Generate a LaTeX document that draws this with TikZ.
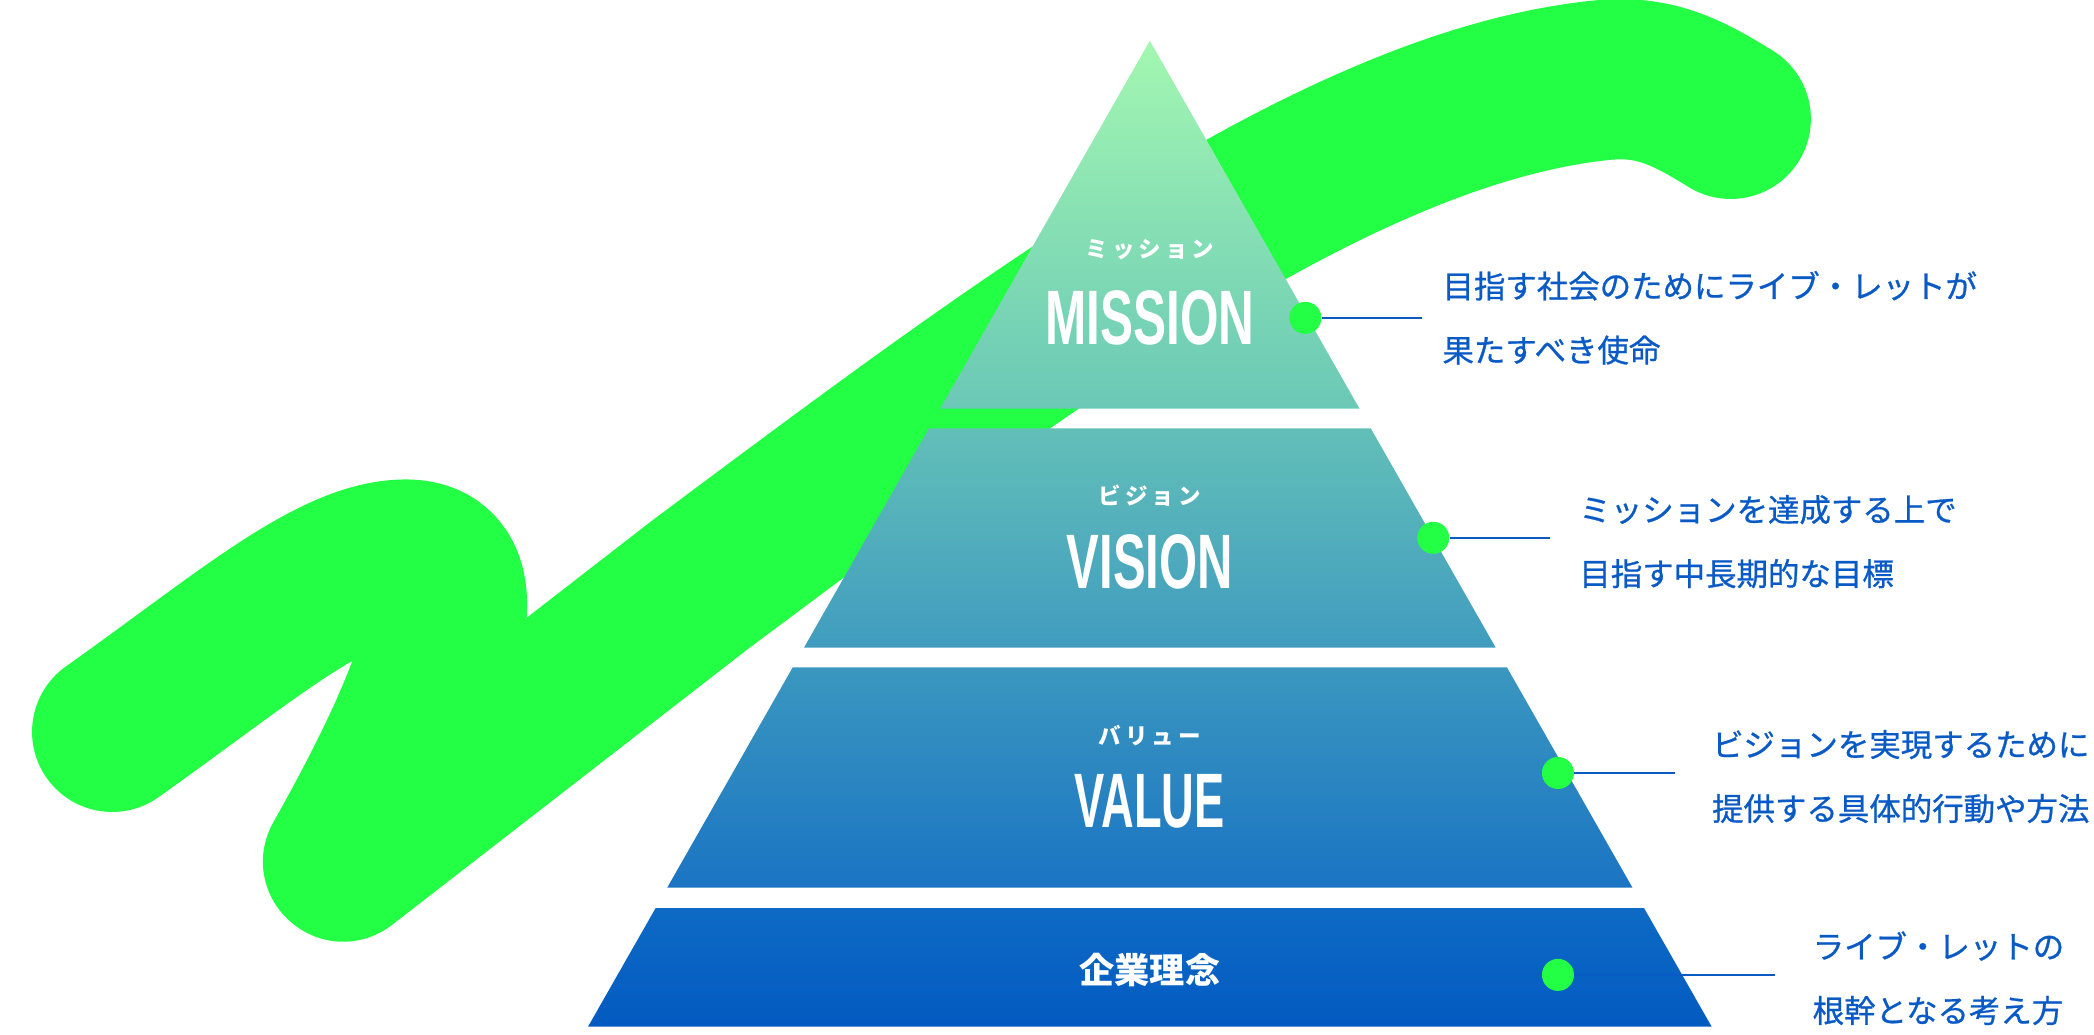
\documentclass[tikz,border=0pt]{standalone}
\usepackage{fontspec}
\usepackage{graphicx}
\newfontfamily\jpfont{Noto Sans CJK JP}
\newfontfamily\jplabel[FakeBold=0.8]{Noto Sans CJK JP}
\newfontfamily\enfont{Liberation Sans}
\definecolor{swoosh}{RGB}{34,255,68}
\definecolor{labelblue}{HTML}{0A5AC6}
\definecolor{tAtop}{HTML}{A3F7B1}
\definecolor{tAbot}{HTML}{6AC8B6}
\definecolor{tBtop}{HTML}{62BFB8}
\definecolor{tBbot}{HTML}{409CBF}
\definecolor{tCtop}{HTML}{3A97BF}
\definecolor{tCbot}{HTML}{1B74C3}
\definecolor{tDtop}{HTML}{0D6AC4}
\definecolor{tDbot}{HTML}{035AC1}
\newcommand{\kspc}{\hspace{1.7pt}}
\begin{document}
\begin{tikzpicture}[x=0.02cm,y=-0.02cm,
  stroke/.style={draw=swoosh,line width=2.4cm,line cap=round,line join=round},
  kana/.style={text=white,font=\jpfont\bfseries\fontsize{9.6pt}{9.6pt}\selectfont,inner sep=0pt},
  bigword/.style={text=white,font=\enfont\bfseries\fontsize{32.9pt}{32.9pt}\selectfont,inner sep=0pt,anchor=base},
  corp/.style={text=white,font=\jpfont\bfseries\fontsize{15pt}{15pt}\selectfont,inner sep=0pt},
  dot/.style={circle,fill=swoosh,minimum size=0.48cm,inner sep=0pt},
  conn/.style={draw=labelblue,line width=0.85pt},
  label/.style={text=labelblue,font=\jplabel\fontsize{13.4pt}{27.3pt}\selectfont,align=left,anchor=west,inner sep=0pt}]
\useasboundingbox (0,0) rectangle (1568,774.3);
% green swoosh
\draw[stroke] (84,548) .. controls (184,477) and (250,419) .. (304,419)
  .. controls (368,419) and (322,530) .. (257,645)
  -- (524,438)
  .. controls (760,262) and (1000,80) .. (1200,60)
  .. controls (1240,56) and (1265,70) .. (1296,89);
% pyramid tiers
\shade[top color=tAtop,bottom color=tAbot] (861,30.5) -- (1018,306) -- (704,306) -- cycle;
\shade[top color=tBtop,bottom color=tBbot] (695.6,320.7) -- (1026.4,320.7) -- (1120,485) -- (602,485) -- cycle;
\shade[top color=tCtop,bottom color=tCbot] (593.6,499.7) -- (1128.4,499.7) -- (1222.4,664.7) -- (499.6,664.7) -- cycle;
\shade[top color=tDtop,bottom color=tDbot] (490.9,680) -- (1231.1,680) -- (1281.7,768.8) -- (440.3,768.8) -- cycle;
% tier texts
\node[kana] (k1) at (861,187) {ミ\kspc ッ\kspc シ\kspc ョ\kspc ン};
\node[bigword] (w1) at (861,257.6) {\scalebox{0.641}[1]{MISSION}};
\node[kana] (k2) at (861,371) {ビ\kspc ジ\kspc ョ\kspc ン};
\node[bigword] (w2) at (861,441) {\scalebox{0.635}[1]{VISION}};
\node[kana] (k3) at (861,551) {バ\kspc リ\kspc ュ\kspc ー};
\node[bigword] (w3) at (861,619.7) {\scalebox{0.586}[1]{VALUE}};
\node[corp] (w4) at (861,726) {企業理念};
% dots and connectors
\node[dot] (d1) at (977.5,238) {};
\node[dot] (d2) at (1073.2,402.7) {};
\node[dot] (d3) at (1166.6,578.8) {};
\node[dot] (d4) at (1166.6,730) {};
\coordinate (e1) at (1064.7,238);
\coordinate (e2) at (1160.6,402.7);
\coordinate (e3) at (1254.6,578.8);
\coordinate (e4) at (1328.8,730);
\draw[conn] (d1) -- (e1);
\draw[conn] (d2) -- (e2);
\draw[conn] (d3) -- (e3);
\draw[conn] (d4) -- (e4);
% labels
\node[label] (l1) at (1079.8,238) {目指す社会のためにライブ・レットが\\果たすべき使命};
\node[label] (l2) at (1182.3,405.6) {ミッションを達成する上で\\目指す中長期的な目標};
\node[label] (l3) at (1281.7,581.5) {ビジョンを実現するために\\提供する具体的行動や方法};
\node[label] (l4) at (1357,732.5) {ライブ・レットの\\根幹となる考え方};
\end{tikzpicture}
\end{document}
